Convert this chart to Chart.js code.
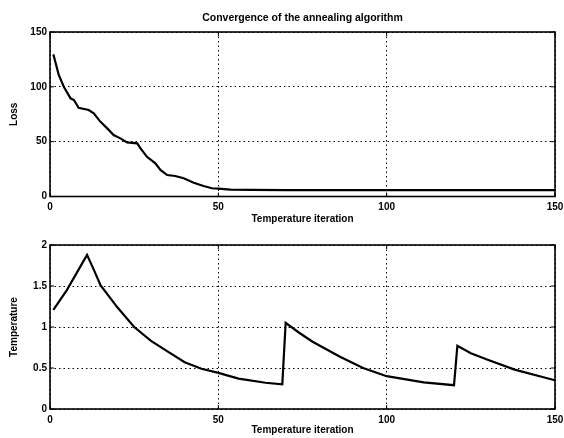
<!DOCTYPE html>
<html>
<head>
<meta charset="utf-8">
<script src="https://cdn.jsdelivr.net/npm/chart.js@4.4.1/dist/chart.umd.min.js"></script>
<style>
  body { margin: 0; background: #fff; }
  #wrap { position: relative; width: 564px; height: 438px; }
  canvas { position: absolute; left: 0; }
  #lossChart { top: 0; }
  #tempChart { top: 226px; }
</style>
</head>
<body>
<div id="wrap">
  <canvas id="lossChart" width="564" height="226"></canvas>
  <canvas id="tempChart" width="564" height="212"></canvas>
</div>
<script>
// values
const lossIter = [1, 2.6, 4.1, 6.1, 7.1, 8.5, 11.5, 13, 15, 17, 18.9, 20.9, 22.9, 25.9, 26.9, 28.8, 31.3, 32.8, 34.8, 37.2, 39.7, 42.7, 45.6, 48.1, 50, 53.6, 60, 70, 90, 110, 130, 150];
const lossValues = [129.6, 110.8, 100.1, 89.5, 88, 80.9, 78.9, 75.8, 68.1, 62.1, 56, 53, 49.4, 48.5, 43.8, 36.2, 30.2, 24.2, 19.6, 18.7, 16.6, 12.6, 9.6, 7.5, 7.2, 6.2, 6, 5.8, 5.8, 5.8, 5.8, 5.8];

const tempIter = [1, 5, 11, 13, 15, 20, 25, 30, 35, 40, 45, 50, 56, 64, 69, 70, 74, 78, 86, 93, 100, 111, 120, 121, 125, 130, 138, 150];
const tempValues = [1.21, 1.45, 1.88, 1.70, 1.51, 1.24, 1.0, 0.83, 0.70, 0.57, 0.49, 0.44, 0.37, 0.32, 0.30, 1.05, 0.93, 0.82, 0.64, 0.50, 0.40, 0.325, 0.29, 0.77, 0.68, 0.60, 0.48, 0.35];

const iterTicks = [0, 50, 100, 150];
const lossTicks = [0, 50, 100, 150];
const tempTicks = [0, 0.5, 1, 1.5, 2];

Chart.defaults.font.family = "'Liberation Sans', Arial, sans-serif";
Chart.defaults.font.weight = 'bold';
Chart.defaults.font.size = 10;
Chart.defaults.color = '#000';

// matlab style box with inward ticks
const boxFrame = {
  id: 'boxFrame',
  afterDatasetsDraw(chart) {
    const ctx = chart.ctx;
    const a = chart.chartArea;
    const xs = chart.scales.x;
    const ys = chart.scales.y;
    ctx.save();
    ctx.strokeStyle = '#000';
    ctx.setLineDash([]);
    ctx.lineWidth = 1.6;
    ctx.strokeRect(a.left, a.top, a.right - a.left, a.bottom - a.top);
    ctx.lineWidth = 1;
    ctx.beginPath();
    xs.ticks.forEach(t => {
      const px = xs.getPixelForValue(t.value);
      ctx.moveTo(px, a.bottom); ctx.lineTo(px, a.bottom - 4);
      ctx.moveTo(px, a.top); ctx.lineTo(px, a.top + 4);
    });
    ys.ticks.forEach(t => {
      const py = ys.getPixelForValue(t.value);
      ctx.moveTo(a.left, py); ctx.lineTo(a.left + 4, py);
      ctx.moveTo(a.right, py); ctx.lineTo(a.right - 4, py);
    });
    ctx.stroke();
    ctx.restore();
  }
};

function makeChart(id, xVals, yVals, yTicks, yLabel, extra) {
  const points = xVals.map((x, i) => ({ x: x, y: yVals[i] }));
  return new Chart(document.getElementById(id), {
    type: 'line',
    data: {
      datasets: [{
        data: points,
        borderColor: '#000',
        borderWidth: 2.2,
        pointRadius: 0,
        tension: 0,
        fill: false
      }]
    },
    options: {
      responsive: false,
      animation: false,
      layout: { padding: { left: 0, right: 9, top: 0, bottom: 0 } },
      plugins: {
        legend: { display: false },
        tooltip: { enabled: false }
      },
      scales: {
        x: {
          type: 'linear',
          min: iterTicks[0],
          max: iterTicks[iterTicks.length - 1],
          afterBuildTicks: s => { s.ticks = iterTicks.map(v => ({ value: v })); },
          afterFit: s => { s.height = extra.xHeight; s.paddingLeft = 0; s.paddingRight = 0; },
          grid: { color: '#000', lineWidth: 1, drawTicks: false },
          border: { display: false, dash: [1.5, 3] },
          ticks: { padding: 5, maxRotation: 0 },
          title: { display: true, text: 'Temperature iteration', padding: { top: 0, bottom: extra.xTitlePad } }
        },
        // top axis only carries the plot title, centred over the plot box
        top: {
          type: 'linear',
          position: 'top',
          min: iterTicks[0],
          max: iterTicks[iterTicks.length - 1],
          afterFit: s => { s.height = extra.top; s.paddingLeft = 0; s.paddingRight = 0; },
          grid: { display: false, drawTicks: false },
          border: { display: false },
          ticks: { display: false },
          title: {
            display: extra.title !== '',
            text: extra.title,
            font: { size: 10.5, weight: 'bold' },
            padding: { top: 11.5, bottom: 0 }
          }
        },
        y: {
          type: 'linear',
          min: yTicks[0],
          max: yTicks[yTicks.length - 1],
          afterBuildTicks: s => { s.ticks = yTicks.map(v => ({ value: v })); },
          afterFit: s => { s.width = 50; },
          grid: { color: '#000', lineWidth: 1, drawTicks: false },
          border: { display: false, dash: [1.5, 3] },
          ticks: { padding: 3, callback: v => String(v) },
          title: { display: true, text: yLabel, padding: { top: 8, bottom: 0 } }
        }
      }
    },
    plugins: [boxFrame]
  });
}

makeChart('lossChart', lossIter, lossValues, lossTicks, 'Loss', {
  top: 32,
  xHeight: 29.5,
  xTitlePad: 1,
  title: 'Convergence of the annealing algorithm'
});

makeChart('tempChart', tempIter, tempValues, tempTicks, 'Temperature', {
  top: 19,
  xHeight: 29,
  xTitlePad: 2,
  title: ''
});
</script>
</body>
</html>
